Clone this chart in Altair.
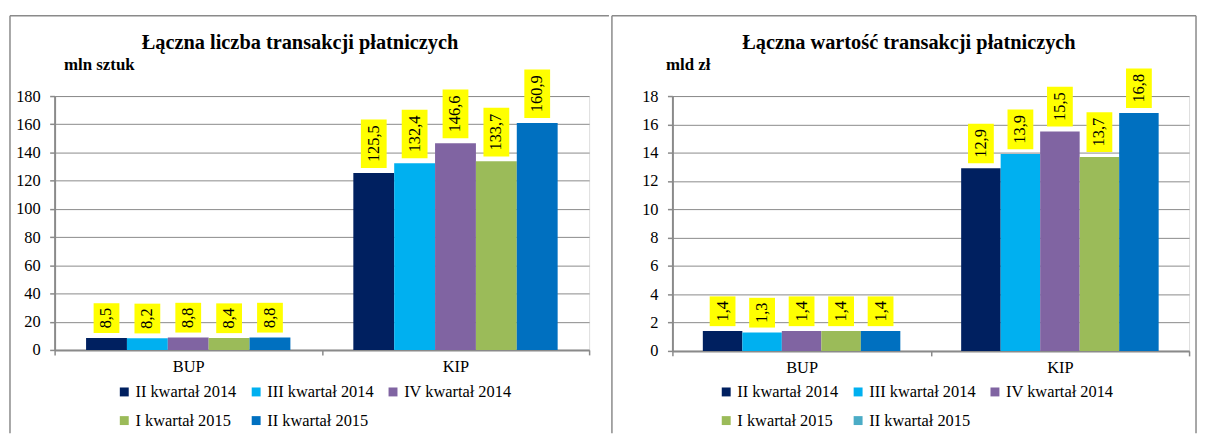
import altair as alt
import pandas as pd

categories = ["BUP", "KIP"]
series = ["II kwartał 2014", "III kwartał 2014", "IV kwartał 2014", "I kwartał 2015", "II kwartał 2015"]
count_bup = [8.5, 8.2, 8.8, 8.4, 8.8]
count_kip = [125.5, 132.4, 146.6, 133.7, 160.9]
value_bup = [1.4, 1.3, 1.4, 1.4, 1.4]
value_kip = [12.9, 13.9, 15.5, 13.7, 16.8]
bar_colors = ["#002060", "#00B0F0", "#8064A2", "#9BBB59", "#0070C0"]
legend_colors_right = ["#002060", "#00B0F0", "#8064A2", "#9BBB59", "#4BACC6"]
titles = ["Łączna liczba transakcji płatniczych", "Łączna wartość transakcji płatniczych"]
units = ["mln sztuk", "mld zł"]

SERIF = "Times New Roman, Liberation Serif, serif"
GRAY = "#8a8a8a"
BOX_H = {3: 30, 4: 40, 5: 49}


def make_df(vals_bup, vals_kip):
    rows = []
    for cat, vals in zip(categories, [vals_bup, vals_kip]):
        for s, v in zip(series, vals):
            rows.append({"cat": cat, "series": s, "value": v,
                         "label": f"{v:.1f}".replace(".", ",")})
    return pd.DataFrame(rows)


def panel(df, title, unit, ymax, step, width, height, legend_colors,
          unit_x, legend_x, frame_left, frame_right):
    x = alt.X("cat:N", sort=categories,
              scale=alt.Scale(paddingInner=0, paddingOuter=0),
              axis=alt.Axis(title=None, labelAngle=0, tickBand="extent", grid=False,
                            domainColor=GRAY, domainWidth=2, tickColor=GRAY, tickWidth=1.5,
                            tickSize=5, labelFont=SERIF, labelFontSize=16.5,
                            labelColor="black", labelPadding=4))
    xo = alt.XOffset("series:N", sort=series,
                     scale=alt.Scale(paddingInner=0, paddingOuter=0.77))
    y = alt.Y("value:Q", scale=alt.Scale(domain=[0, ymax], nice=False),
              axis=alt.Axis(values=list(range(0, ymax + 1, step)), title=unit,
                            titleAngle=0, titleX=unit_x, titleY=-27, titleAlign="left",
                            titleBaseline="alphabetic", titleFont=SERIF, titleFontSize=17,
                            titleFontWeight="bold", titleColor="black",
                            grid=True, gridColor=GRAY, gridWidth=1,
                            domainColor=GRAY, domainWidth=2, tickColor=GRAY, tickWidth=1.5,
                            tickSize=5, labelFont=SERIF, labelFontSize=16.5,
                            labelColor="black", labelPadding=9.5))
    base = alt.Chart(df)
    bars = base.mark_bar().encode(
        x=x, xOffset=xo, y=y,
        color=alt.Color("series:N", sort=series,
                        scale=alt.Scale(domain=series, range=bar_colors), legend=None))
    layers = [bars]
    lengths = sorted(set(len(s) for s in df["label"]))
    for L in lengths:
        H = BOX_H[L]
        sub = base.transform_filter(f"length(datum.label) == {L}")
        box = sub.mark_bar(width=26, color="#FFFF00", yOffset=-5, y2Offset=-(5 + H)).encode(
            x=x, xOffset=xo, y=y, y2=alt.Y2("value:Q"))
        txt = sub.mark_text(angle=270, font=SERIF, fontSize=16.5, color="black",
                            align="center", baseline="middle", yOffset=-(5 + H / 2)).encode(
            x=x, xOffset=xo, y=y, text="label:N")
        layers += [box, txt]
    leg = base.mark_point(shape="square", filled=True, size=0).encode(
        x=x, xOffset=xo, y=y,
        color=alt.Color("series:N", sort=series,
                        scale=alt.Scale(domain=series, range=legend_colors),
                        legend=alt.Legend(orient="none", legendX=legend_x, legendY=290,
                                          direction="horizontal",
                                          columns=3, title=None, symbolType="square",
                                          symbolSize=81, symbolOpacity=1, symbolStrokeWidth=0,
                                          labelFont=SERIF, labelFontSize=16.5,
                                          labelColor="black", labelOffset=3,
                                          columnPadding=11, rowPadding=12, padding=0)))
    layers.append(leg)
    one = alt.Chart(pd.DataFrame({"f": [0]}))
    ttl = one.mark_text(font=SERIF, fontSize=20.5, fontWeight="bold", color="black",
                        align="center", baseline="alphabetic").encode(
        x=alt.value(width / 2 - 22), y=alt.value(-47), text=alt.value(title))
    fl = one.mark_rule(color=GRAY, strokeWidth=1.5).encode(
        x=alt.value(frame_left), y=alt.value(-81), y2=alt.value(340))
    ft = one.mark_rule(color=GRAY, strokeWidth=1.5).encode(
        x=alt.value(frame_left), x2=alt.value(frame_right), y=alt.value(-81))
    layers += [ttl, fl, ft]
    if frame_right < width + 20:
        fr = one.mark_rule(color=GRAY, strokeWidth=1.5).encode(
            x=alt.value(frame_right), y=alt.value(-81), y2=alt.value(340))
        layers.append(fr)
    return alt.layer(*layers).resolve_scale(color="independent").properties(
        width=width, height=height)


left = panel(make_df(count_bup, count_kip), titles[0], units[0], 180, 20, 539, 256,
             bar_colors, 9, 62, -45, 559)
right = panel(make_df(value_bup, value_kip), titles[1], units[1], 18, 2, 521, 257,
              legend_colors_right, -7, 46, -61, 528)

chart = alt.hconcat(left, right, spacing=84, bounds="flush").resolve_scale(
    color="independent", x="independent", y="independent", xOffset="independent"
).resolve_legend(color="independent").properties(
    padding={"left": 0, "top": 4, "right": 0, "bottom": 0}
).configure_view(stroke=None).configure(background="white")

chart.save("out.html", embed_options={"renderer": "svg", "actions": False})
